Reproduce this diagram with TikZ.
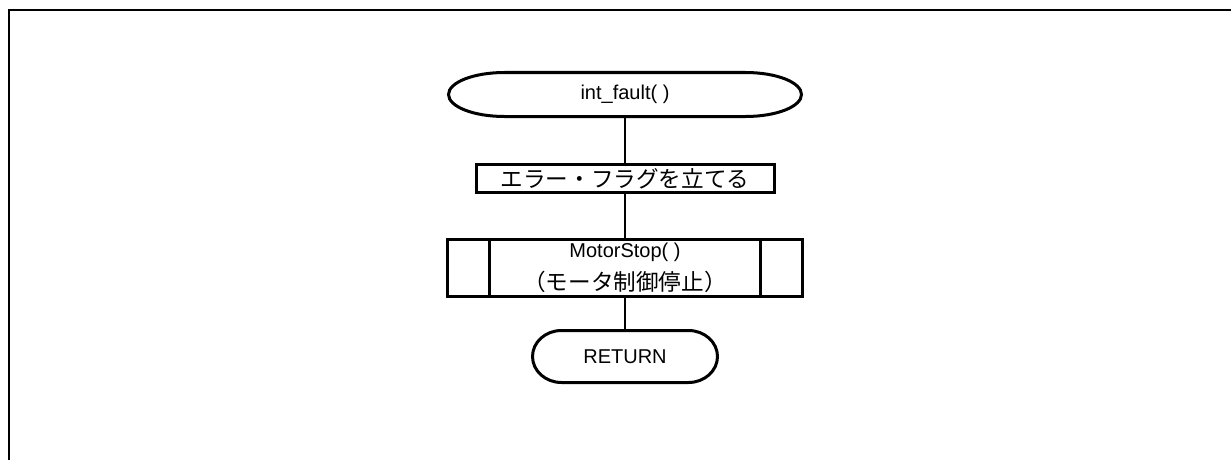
\documentclass[tikz,border=0pt]{standalone}
\usepackage{fontspec}
\setmainfont{Liberation Sans}
\newfontfamily\jpfont{Noto Sans CJK JP}
\usepackage{tikz}
\usetikzlibrary{positioning}

\newcommand{\jp}[1]{{\jpfont\fontsize{22.6}{33}\selectfont #1}}
% terminal outline with elliptic ends: node name, x radius, y radius
\newcommand{\termshape}[3]{%
  \draw[boxline] ([xshift=#2]#1.north west) -- ([xshift=-#2]#1.north east)
    arc[start angle=90, end angle=-90, x radius=#2, y radius=#3]
    -- ([xshift=#2]#1.south west)
    arc[start angle=270, end angle=90, x radius=#2, y radius=#3] -- cycle;}

\tikzset{
  boxline/.style={line width=3pt},
  flowline/.style={line width=1.5pt},
  termbox/.style={inner sep=0pt, outer sep=0pt, font=\fontsize{20}{33}\selectfont},
  procbox/.style={draw, boxline, inner sep=0pt, outer sep=0pt, minimum width=298pt, minimum height=28pt},
  subbox/.style={draw, boxline, inner sep=0pt, outer sep=0pt, minimum width=355pt, minimum height=57pt,
    align=center, font=\fontsize{20}{33}\selectfont},
}

\begin{document}
\begin{tikzpicture}[x=1pt, y=-1pt]
  \useasboundingbox (0,0) rectangle (1231,460);
  % frame
  \draw[line width=2pt] (9,460) -- (9,10) -- (1231,10);

  \node[termbox, minimum width=353pt, minimum height=44pt] (start) at (625,94.5) {int\_fault( )};
  \node[procbox, below=48pt of start] (setflag) {\jp{エラー・フラグを立てる}};
  \node[subbox, below=47pt of setflag] (motorstop) {MotorStop( )\\\jp{（モータ制御停止）}};
  \node[termbox, minimum width=185pt, minimum height=52pt, below=34pt of motorstop] (ret) {RETURN};

  \termshape{start}{56pt}{22pt}
  \termshape{ret}{29pt}{26pt}
  \draw[boxline] ([xshift=42pt]motorstop.north west) -- ([xshift=42pt]motorstop.south west);
  \draw[boxline] ([xshift=-42pt]motorstop.north east) -- ([xshift=-42pt]motorstop.south east);

  \draw[flowline] (start) -- (setflag);
  \draw[flowline] (setflag) -- (motorstop);
  \draw[flowline] (motorstop) -- (ret);
\end{tikzpicture}
\end{document}
